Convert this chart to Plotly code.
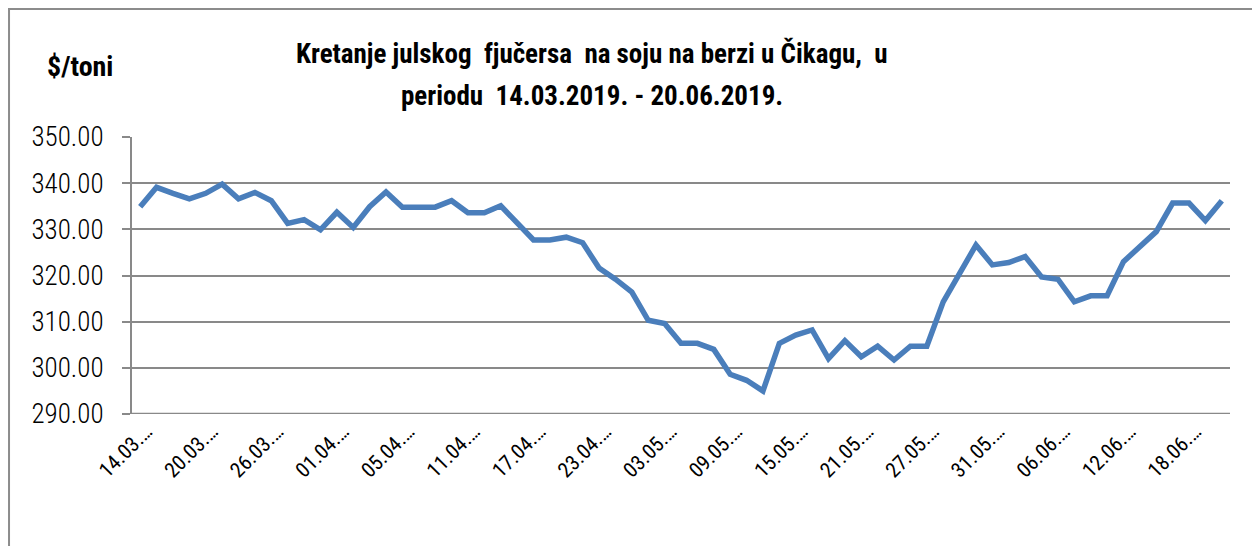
import plotly.graph_objects as go

dates = ["14.03.2019.", "15.03.2019.", "18.03.2019.", "19.03.2019.", "20.03.2019.", "21.03.2019.",
         "22.03.2019.", "25.03.2019.", "26.03.2019.", "27.03.2019.", "28.03.2019.", "29.03.2019.",
         "01.04.2019.", "02.04.2019.", "03.04.2019.", "04.04.2019.", "05.04.2019.", "08.04.2019.",
         "09.04.2019.", "10.04.2019.", "11.04.2019.", "12.04.2019.", "15.04.2019.", "16.04.2019.",
         "17.04.2019.", "18.04.2019.", "19.04.2019.", "22.04.2019.", "23.04.2019.", "24.04.2019.",
         "25.04.2019.", "30.04.2019.", "03.05.2019.", "06.05.2019.", "07.05.2019.", "08.05.2019.",
         "09.05.2019.", "10.05.2019.", "13.05.2019.", "14.05.2019.", "15.05.2019.", "16.05.2019.",
         "17.05.2019.", "20.05.2019.", "21.05.2019.", "22.05.2019.", "23.05.2019.", "24.05.2019.",
         "27.05.2019.", "28.05.2019.", "29.05.2019.", "30.05.2019.", "31.05.2019.", "03.06.2019.",
         "04.06.2019.", "05.06.2019.", "06.06.2019.", "07.06.2019.", "10.06.2019.", "11.06.2019.",
         "12.06.2019.", "13.06.2019.", "14.06.2019.", "17.06.2019.", "18.06.2019.", "19.06.2019.",
         "20.06.2019."]

prices = [334.9, 339.1, 337.8, 336.6, 337.8, 339.8, 336.6, 338.0, 336.2, 331.3,
          332.1, 329.9, 333.7, 330.4, 334.9, 338.1, 334.8, 334.8, 334.8, 336.2,
          333.6, 333.6, 335.1, 331.4, 327.7, 327.7, 328.3, 327.1, 321.6, 319.2,
          316.4, 310.3, 309.6, 305.3, 305.3, 304.0, 298.6, 297.3, 295.0, 305.3,
          307.1, 308.2, 302.0, 305.9, 302.4, 304.7, 301.7, 304.7, 304.7, 314.3,
          320.3, 326.6, 322.3, 322.8, 324.1, 319.7, 319.2, 314.3, 315.6, 315.6,
          323.0, 326.4, 329.5, 335.7, 335.7, 331.9, 336.2]

y_ticks = [290, 300, 310, 320, 330, 340, 350]
y_tick_labels = ["290.00", "300.00", "310.00", "320.00", "330.00", "340.00", "350.00"]

label_step = 4
tick_vals = dates[::label_step]
tick_text = [d[:6] + "\u2026" for d in tick_vals]

title_line1 = "Kretanje julskog  fjučersa  na soju na berzi u Čikagu,  u"
title_line2 = "periodu  14.03.2019. - 20.06.2019."
unit_label = "$/toni"

FONT = "Roboto Condensed, DejaVu Sans Condensed, sans-serif"
GRID = "#898989"

fig = go.Figure()
fig.add_trace(go.Scatter(
    x=dates, y=prices, mode="lines",
    line=dict(color="#4A7EBB", width=5.5),
    hoverinfo="x+y", showlegend=False,
))

fig.update_layout(
    width=1252, height=538,
    margin=dict(l=124, r=30, t=129, b=132),
    paper_bgcolor="white", plot_bgcolor="white",
    font=dict(family=FONT, color="black"),
    xaxis=dict(
        type="category",
        tickmode="array", tickvals=tick_vals, ticktext=tick_text,
        tickangle=-45, tickfont=dict(size=21, family=FONT, color="black", weight=400),
        showgrid=False, showline=False, ticks="", zeroline=False,
        range=[-0.5, len(dates) - 0.5],
        ticklabelshift=6,
    ),
    yaxis=dict(
        range=[290, 350], tickmode="array", tickvals=y_ticks, ticktext=y_tick_labels,
        tickfont=dict(size=27, family=FONT, color="black", weight=300),
        showgrid=True, gridcolor=GRID, gridwidth=2,
        showline=True, linecolor=GRID, linewidth=2,
        ticks="outside", ticklen=8, tickcolor=GRID, tickwidth=2,
        zeroline=False, ticklabelstandoff=13,
    ),
    annotations=[
        dict(text="<b>" + title_line1 + "</b>", xref="paper", yref="paper",
             x=0.419, y=1.30, xanchor="center", yanchor="middle", showarrow=False,
             font=dict(size=27, family=FONT, color="black")),
        dict(text="<b>" + title_line2 + "</b>", xref="paper", yref="paper",
             x=0.419, y=1.148, xanchor="center", yanchor="middle", showarrow=False,
             font=dict(size=27, family=FONT, color="black")),
        dict(text="<b>" + unit_label + "</b>", xref="paper", yref="paper",
             x=-0.0792, y=1.253, xanchor="left", yanchor="middle", showarrow=False,
             font=dict(size=28, family=FONT, color="black")),
    ],
    shapes=[
        dict(type="rect", xref="paper", yref="paper",
             x0=-0.112, x1=1.1, y0=-0.6, y1=1.462,
             line=dict(color="#8c8c8c", width=2), layer="below"),
        dict(type="line", xref="paper", yref="y", x0=0, x1=1, y0=290, y1=290,
             line=dict(color=GRID, width=2.5), layer="below"),
    ],
)

fig.write_html("out.html")
